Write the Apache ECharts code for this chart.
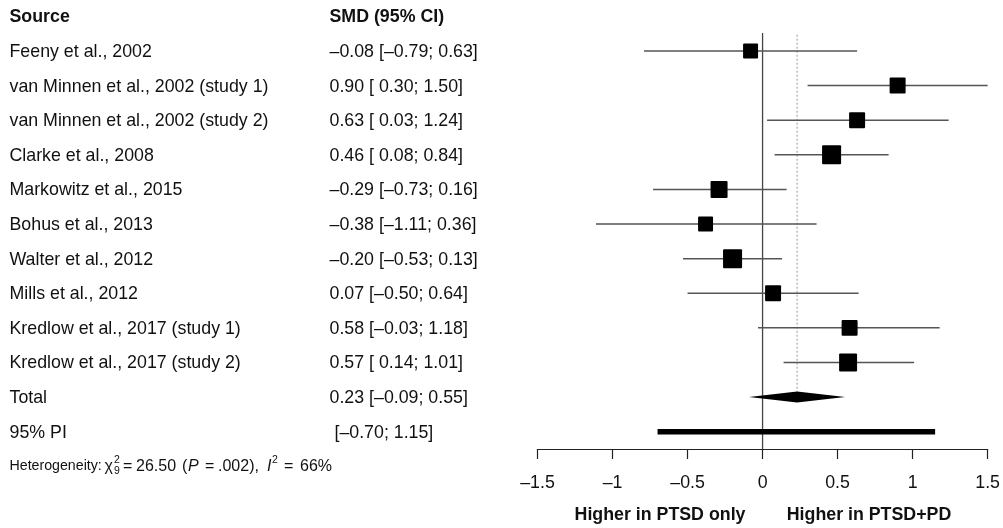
<!DOCTYPE html>
<html>
<head>
<meta charset="utf-8">
<script src="https://cdn.jsdelivr.net/npm/echarts@6/dist/echarts.min.js"></script>
<style>
  html, body { margin: 0; padding: 0; background: #fff; }
  #chart { width: 1003px; height: 528px; }
</style>
</head>
<body>
<div id="chart"></div>
<script>
// Study-level effect sizes (standardised mean differences) with 95% CIs
const studies = [
  "Feeny et al., 2002",
  "van Minnen et al., 2002 (study 1)",
  "van Minnen et al., 2002 (study 2)",
  "Clarke et al., 2008",
  "Markowitz et al., 2015",
  "Bohus et al., 2013",
  "Walter et al., 2012",
  "Mills et al., 2012",
  "Kredlow et al., 2017 (study 1)",
  "Kredlow et al., 2017 (study 2)"
];
const smd     = [-0.08, 0.90, 0.63, 0.46, -0.29, -0.38, -0.20, 0.07, 0.58, 0.57];
const ciLower = [-0.79, 0.30, 0.03, 0.08, -0.73, -1.11, -0.53, -0.50, -0.03, 0.14];
const ciUpper = [ 0.63, 1.50, 1.24, 0.84,  0.16,  0.36,  0.13,  0.64, 1.18, 1.01];
// Relative study weights (%), shown through the square's area
const weights = [8.0, 9.1, 9.1, 12.9, 10.3, 8.0, 12.9, 9.1, 9.1, 11.5];

// Random-effects pooled estimate [estimate, lower, upper] and 95% prediction interval
const totalEstimate = [0.23, -0.09, 0.55];
const predictionInterval = [-0.70, 1.15];

// Heterogeneity: chi-square, df, P, I^2 (%)
const heterogeneity = ['26.50', '9', '.002', '66%'];

const xTicks = [-1.5, -1, -0.5, 0, 0.5, 1, 1.5];
const headers = ["Source", "SMD (95% CI)"];
const summaryLabels = ["Total", "95% PI"];
const directionLabels = ["Higher in PTSD only", "Higher in PTSD+PD"];

const FONT = "'Liberation Sans', Helvetica, Arial, sans-serif";
const TEXT = '#111';
const FS = 17.8;

const dash = v => (v < 0 ? '\u2013' : '') + Math.abs(v).toFixed(2);
const bound = v => (v < 0 ? dash(v) : ' ' + dash(v));
const ciText = (est, lo, hi) => `${dash(est)} [${bound(lo)}; ${dash(hi)}]`;

// Rows of the text table: [row index, left text, right text, bold]
const tableRows = [];
tableRows.push([-1, headers[0], headers[1], true]);
studies.forEach((s, i) => tableRows.push([i, s, ciText(smd[i], ciLower[i], ciUpper[i]), false]));
tableRows.push([10, summaryLabels[0], ciText(totalEstimate[0], totalEstimate[1], totalEstimate[2]), false]);
tableRows.push([11, summaryLabels[1], ' [' + dash(predictionInterval[0]) + '; ' + dash(predictionInterval[1]) + ']', false]);

const chart = echarts.init(document.getElementById('chart'), null, { renderer: 'canvas' });

const option = {
  animation: false,
  backgroundColor: '#fff',
  grid: { left: 537.5, right: 13, top: 16.4, bottom: 79, containLabel: false },
  xAxis: {
    type: 'value',
    min: -1.5,
    max: 1.5,
    interval: 0.5,
    axisLine: { show: true, onZero: false, lineStyle: { color: '#222', width: 1.2 } },
    axisTick: { show: true, length: 10, lineStyle: { color: '#222', width: 1.2 } },
    splitLine: { show: false },
    axisLabel: {
      margin: 25,
      fontSize: FS,
      fontFamily: FONT,
      color: TEXT,
      formatter: v => (v < 0 ? '\u2013' : '') + String(Math.abs(v))
    }
  },
  yAxis: { type: 'value', inverse: true, min: -1, max: 11.5, show: false },
  graphic: [
    { type: 'text', x: 660, y: 515, style: { text: directionLabels[0], fontSize: FS, fontWeight: 'bold', fontFamily: FONT, fill: TEXT, align: 'center', verticalAlign: 'middle' } },
    { type: 'text', x: 869, y: 515, style: { text: directionLabels[1], fontSize: FS, fontWeight: 'bold', fontFamily: FONT, fill: TEXT, align: 'center', verticalAlign: 'middle' } }
  ],
  series: [
    // Line of no effect
    {
      type: 'custom', clip: false, z: 1,
      data: [[0]],
      renderItem: (params, api) => {
        const a = api.coord([api.value(0), -0.52]);
        const b = api.coord([api.value(0), 11.5]);
        return { type: 'line', shape: { x1: a[0], y1: a[1], x2: b[0], y2: b[1] }, style: { stroke: '#444', lineWidth: 1.3 } };
      }
    },
    // Pooled estimate reference (dotted), diamond and prediction interval
    {
      type: 'custom', clip: false, z: 2,
      data: [[totalEstimate[0], totalEstimate[1], totalEstimate[2], predictionInterval[0], predictionInterval[1]]],
      renderItem: (params, api) => {
        const half = 5.5;
        const c = api.coord([api.value(0), 10]);
        const lo = api.coord([api.value(1), 10]);
        const hi = api.coord([api.value(2), 10]);
        const top = api.coord([api.value(0), -0.47]);
        const pLo = api.coord([api.value(3), 11]);
        const pHi = api.coord([api.value(4), 11]);
        return {
          type: 'group',
          children: [
            { type: 'line', shape: { x1: c[0], y1: top[1], x2: c[0], y2: c[1] - half }, style: { stroke: '#9a9a9a', lineWidth: 1, lineDash: [2, 2] } },
            { type: 'polygon', shape: { points: [[lo[0], lo[1]], [c[0], c[1] - half], [hi[0], hi[1]], [c[0], c[1] + half]] }, style: { fill: '#000' } },
            { type: 'rect', shape: { x: pLo[0], y: pLo[1] - 2.8, width: pHi[0] - pLo[0], height: 5.6 }, style: { fill: '#000' } }
          ]
        };
      }
    },
    // Study confidence intervals and weighted squares
    {
      type: 'custom', clip: false, z: 3,
      data: studies.map((s, i) => [smd[i], i, ciLower[i], ciUpper[i], weights[i]]),
      renderItem: (params, api) => {
        const row = api.value(1);
        const c = api.coord([api.value(0), row]);
        const lo = api.coord([api.value(2), row]);
        const hi = api.coord([api.value(3), row]);
        const s = 5.3 * Math.sqrt(api.value(4));
        return {
          type: 'group',
          children: [
            { type: 'line', shape: { x1: lo[0], y1: lo[1], x2: hi[0], y2: hi[1] }, style: { stroke: '#555', lineWidth: 1.5 } },
            { type: 'rect', shape: { x: c[0] - s / 2, y: c[1] - s / 2, width: s, height: s, r: 1 }, style: { fill: '#000' } }
          ]
        };
      }
    },
    // Table text: study names and SMD (95% CI)
    {
      type: 'custom', clip: false, z: 4,
      data: tableRows.map(r => [0, r[0]]),
      renderItem: (params, api) => {
        const r = tableRows[params.dataIndex];
        const y = api.coord([0, api.value(1)])[1] + 1;
        const st = t => ({ text: t, fontSize: FS, fontFamily: FONT, fontWeight: r[3] ? 'bold' : 'normal', fill: TEXT, align: 'left', verticalAlign: 'middle' });
        return {
          type: 'group',
          children: [
            { type: 'text', x: 9.5, y: y, style: st(r[1]) },
            { type: 'text', x: 329.5, y: y, style: st(r[2]) }
          ]
        };
      }
    },
    // Heterogeneity statistics line (with chi-square sub/superscripts)
    {
      type: 'custom', clip: false, z: 4,
      data: [[0, 12]],
      renderItem: (params, api) => {
        const y = api.coord([0, api.value(1)])[1];
        const base = 14.2, math = 16, small = 10.5;
        const parts = [
          { x: 9.5,  t: 'Heterogeneity:', size: base },
          { x: 104.5, t: '\u03c7', size: math },
          { x: 114, t: '2', size: small, dy: -6 },
          { x: 114, t: heterogeneity[1], size: small, dy: 5 },
          { x: 123,  t: '=', size: math },
          { x: 136,  t: heterogeneity[0], size: math },
          { x: 182,  t: '(', size: math },
          { x: 188,  t: 'P', size: math, style: 'italic' },
          { x: 205,  t: '=', size: math },
          { x: 218,  t: heterogeneity[2] + '),', size: math },
          { x: 267,  t: 'I', size: math, style: 'italic' },
          { x: 272,  t: '2', size: small, dy: -6 },
          { x: 284,  t: '=', size: math },
          { x: 300,  t: heterogeneity[3], size: math }
        ];
        const children = parts.map(p => ({
          type: 'text', x: p.x, y: y + (p.dy || 0),
          style: { text: p.t, fontSize: p.size, fontStyle: p.style || 'normal', fontFamily: FONT, fill: TEXT, align: 'left', verticalAlign: 'middle' }
        }));
        return { type: 'group', children };
      }
    }
  ]
};

chart.setOption(option);
</script>
</body>
</html>
